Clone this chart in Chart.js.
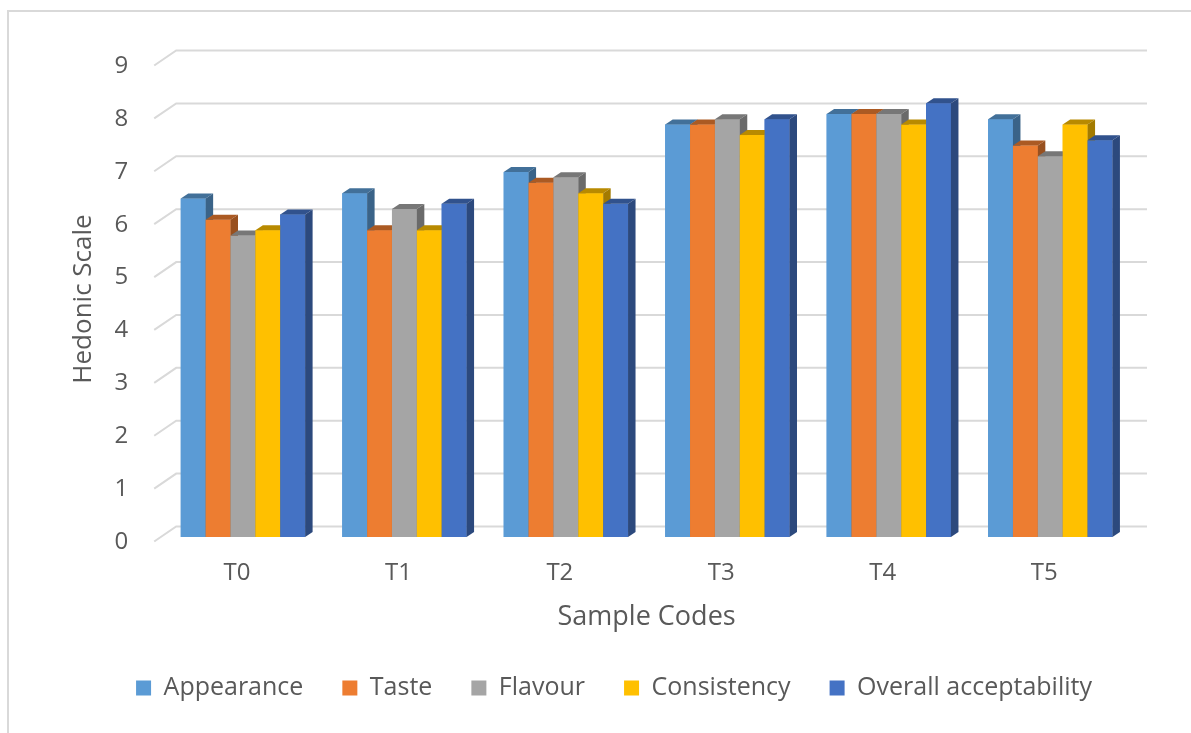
<!DOCTYPE html>
<html>
<head>
<meta charset="utf-8">
<title>Hedonic Scale</title>
<script src="https://cdn.jsdelivr.net/npm/chart.js@4.4.0/dist/chart.umd.min.js"></script>
<style>
    html, body { margin: 0; padding: 0; background: #fff; overflow: hidden; }
    #frame { position: absolute; left: 7px; top: 10px; width: 1400px; height: 900px;
             border-left: 2px solid #d9d9d9; border-top: 2px solid #d9d9d9; }
    #chart { position: absolute; left: 0; top: 0; }
</style>
</head>
<body>
<div id="frame"></div>
<canvas id="chart" width="1191" height="733"></canvas>
<script>
// Datos
var categories = ["T0", "T1", "T2", "T3", "T4", "T5"];
var appearance = [6.4, 6.5, 6.9, 7.8, 8.0, 7.9];
var taste = [6.0, 5.8, 6.7, 7.8, 8.0, 7.4];
var flavour = [5.7, 6.2, 6.8, 7.9, 8.0, 7.2];
var consistency = [5.8, 5.8, 6.5, 7.6, 7.8, 7.8];
var overall = [6.1, 6.3, 6.3, 7.9, 8.2, 7.5];
var yTicks = [0, 1, 2, 3, 4, 5, 6, 7, 8, 9];

var seriesNames = ["Appearance", "Taste", "Flavour", "Consistency", "Overall acceptability"];
var seriesValues = [appearance, taste, flavour, consistency, overall];
var seriesColors = ["#5B9BD5", "#ED7D31", "#A5A5A5", "#FFC000", "#4472C4"];

var textColor = "#595959";
var fontFamily = "'Open Sans', 'DejaVu Sans', sans-serif";

// oscurecer un color hex
function shade(hex, f) {
    var n = parseInt(hex.slice(1), 16);
    var r = Math.round(((n >> 16) & 255) * f);
    var g = Math.round(((n >> 8) & 255) * f);
    var b = Math.round((n & 255) * f);
    return "rgb(" + r + "," + g + "," + b + ")";
}

// lineas de la cuadricula con el efecto 3d
var grid3d = {
    id: "grid3d",
    beforeDatasetsDraw: function (chart) {
        var ctx = chart.ctx;
        var y = chart.scales.y;
        var area = chart.chartArea;
        ctx.save();
        ctx.strokeStyle = "#d9d9d9";
        ctx.lineWidth = 2;
        y.ticks.forEach(function (t) {
            var py = y.getPixelForValue(t.value);
            ctx.beginPath();
            ctx.moveTo(area.left - 8, py + 4.5);
            ctx.lineTo(area.left + 14, py - 10.5);
            ctx.lineTo(area.right + 16, py - 10.5);
            ctx.stroke();
        });
        ctx.restore();
    }
};

// barras con cara superior y lateral
var dx = 7.5, dy = -5;
var bars3d = {
    id: "bars3d",
    afterDatasetsDraw: function (chart) {
        var ctx = chart.ctx;
        ctx.save();
        chart.data.datasets.forEach(function (ds, i) {
            var meta = chart.getDatasetMeta(i);
            meta.data.forEach(function (bar) {
                var p = bar.getProps(["x", "y", "base", "width"], true);
                var l = p.x - p.width / 2, r = p.x + p.width / 2;
                ctx.fillStyle = ds.backgroundColor;
                ctx.fillRect(l, p.y, r - l, p.base - p.y);

                ctx.fillStyle = shade(ds.backgroundColor, 0.72);
                ctx.beginPath();
                ctx.moveTo(l, p.y);
                ctx.lineTo(r, p.y);
                ctx.lineTo(r + dx, p.y + dy);
                ctx.lineTo(l + dx, p.y + dy);
                ctx.closePath();
                ctx.fill();

                ctx.fillStyle = shade(ds.backgroundColor, 0.64);
                ctx.beginPath();
                ctx.moveTo(r, p.y);
                ctx.lineTo(r + dx, p.y + dy);
                ctx.lineTo(r + dx, p.base + dy);
                ctx.lineTo(r, p.base);
                ctx.closePath();
                ctx.fill();
            });
        });
        ctx.restore();
    }
};

var datasets = seriesNames.map(function (name, i) {
    return {
        label: name,
        data: seriesValues[i],
        backgroundColor: seriesColors[i],
        borderWidth: 0
    };
});

var ctx = document.getElementById("chart").getContext("2d");
new Chart(ctx, {
    type: "bar",
    data: {
        labels: categories,
        datasets: datasets
    },
    options: {
        responsive: false,
        animation: false,
        layout: {
            padding: { left: 97, right: 60, top: 61, bottom: 22.5 }
        },
        datasets: {
            bar: { categoryPercentage: 0.77, barPercentage: 1 }
        },
        plugins: {
            legend: {
                position: "bottom",
                labels: {
                    boxWidth: 15,
                    boxHeight: 15,
                    padding: 39,
                    color: textColor,
                    font: { family: fontFamily, size: 25 }
                }
            },
            tooltip: { enabled: false }
        },
        scales: {
            x: {
                grid: { display: false, drawTicks: false },
                border: { display: false },
                ticks: {
                    padding: 22,
                    labelOffset: -6,
                    color: textColor,
                    font: { family: fontFamily, size: 24 }
                },
                title: {
                    display: true,
                    text: "Sample Codes",
                    color: textColor,
                    padding: { top: 0, bottom: 3 },
                    font: { family: fontFamily, size: 27 }
                },
                afterFit: function (scale) { scale.height = 99.5; }
            },
            y: {
                min: 0,
                max: 9,
                afterBuildTicks: function (axis) {
                    axis.ticks = yTicks.map(function (v) { return { value: v }; });
                },
                grid: { display: false, drawTicks: false },
                border: { display: false },
                ticks: {
                    padding: 34,
                    labelOffset: 5,
                    color: textColor,
                    font: { family: fontFamily, size: 24 }
                },
                title: {
                    display: true,
                    text: "Hedonic Scale",
                    color: textColor,
                    padding: { top: -29, bottom: 0 },
                    font: { family: fontFamily, size: 26 }
                },
                afterFit: function (scale) { scale.width = 65.2; }
            }
        }
    },
    plugins: [grid3d, bars3d]
});
</script>
</body>
</html>
